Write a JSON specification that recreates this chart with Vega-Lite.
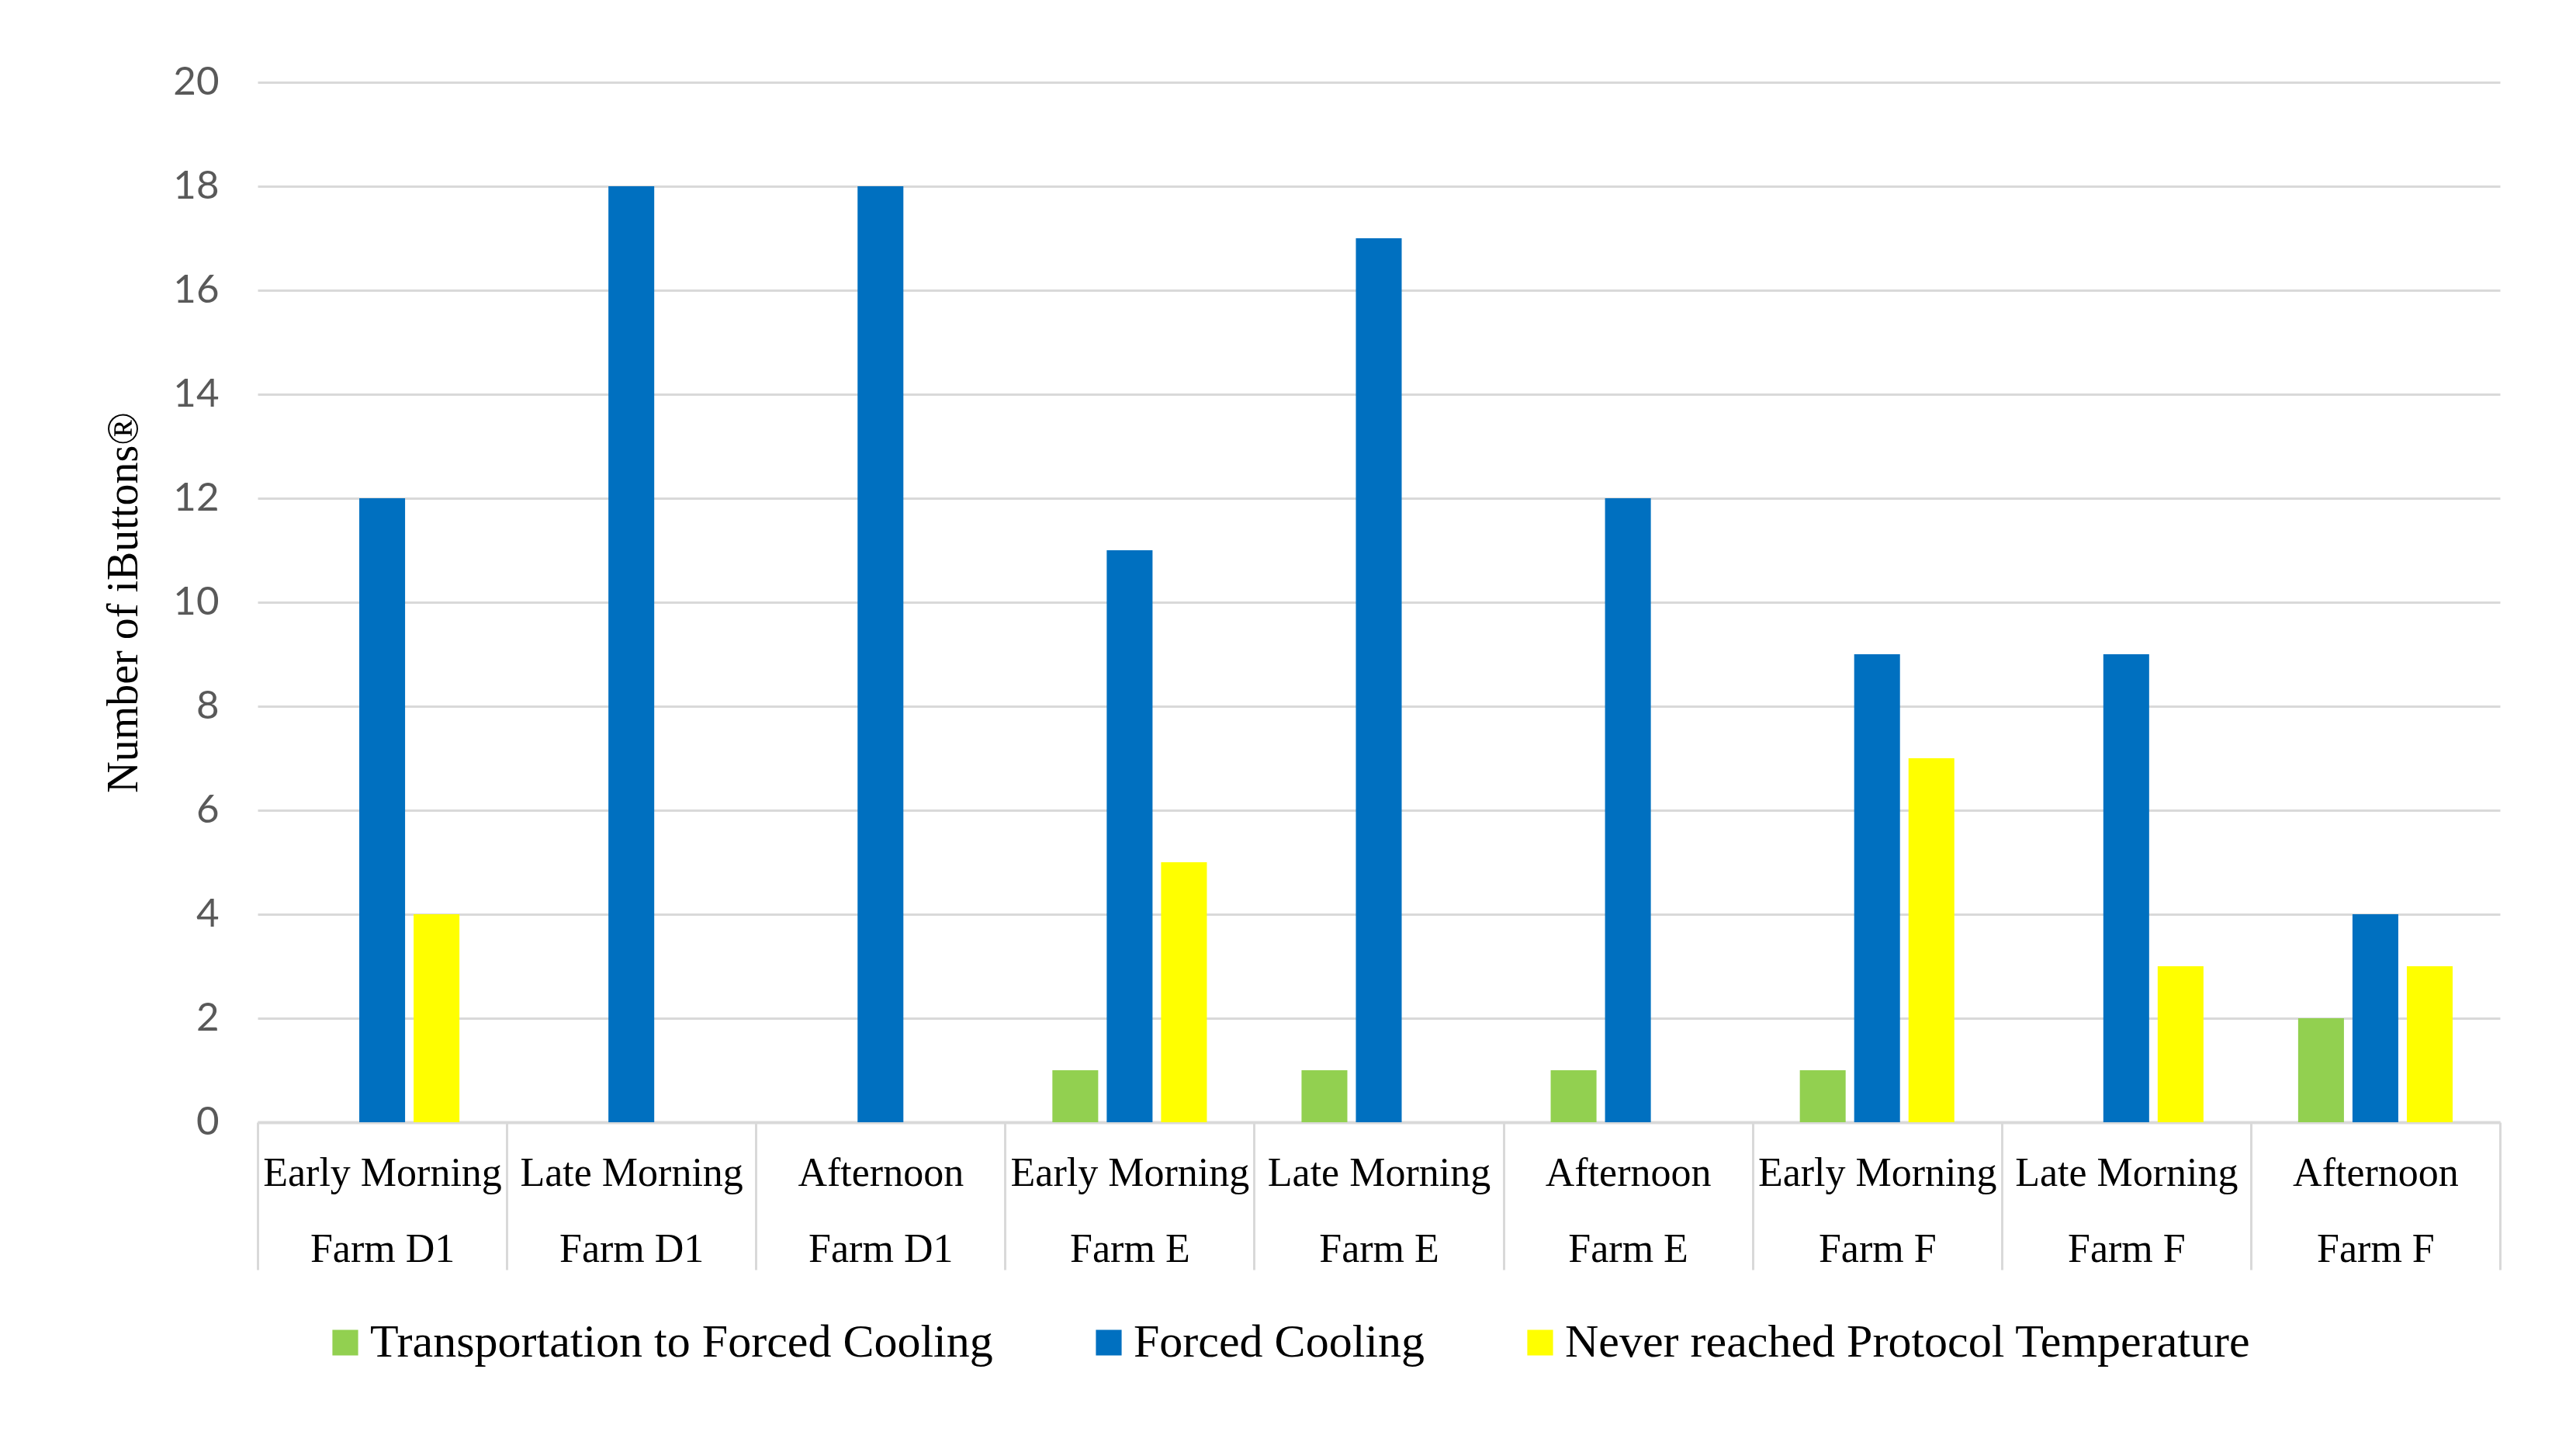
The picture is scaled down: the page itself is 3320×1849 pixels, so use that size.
{
  "$schema": "https://vega.github.io/schema/vega-lite/v6.json",
  "width": 2890,
  "height": 1340,
  "autosize": "none",
  "padding": {"left": 332, "top": 106, "right": 98, "bottom": 403},
  "background": "white",
  "config": {"view": {"stroke": null}},
  "data": {
    "values": [
      {"period": "Early Morning|Farm D1", "series": "Transportation to Forced Cooling", "count": 0},
      {"period": "Early Morning|Farm D1", "series": "Forced Cooling", "count": 12},
      {"period": "Early Morning|Farm D1", "series": "Never reached Protocol  Temperature", "count": 4},
      {"period": "Late Morning|Farm D1", "series": "Transportation to Forced Cooling", "count": 0},
      {"period": "Late Morning|Farm D1", "series": "Forced Cooling", "count": 18},
      {"period": "Late Morning|Farm D1", "series": "Never reached Protocol  Temperature", "count": 0},
      {"period": "Afternoon|Farm D1", "series": "Transportation to Forced Cooling", "count": 0},
      {"period": "Afternoon|Farm D1", "series": "Forced Cooling", "count": 18},
      {"period": "Afternoon|Farm D1", "series": "Never reached Protocol  Temperature", "count": 0},
      {"period": "Early Morning|Farm E", "series": "Transportation to Forced Cooling", "count": 1},
      {"period": "Early Morning|Farm E", "series": "Forced Cooling", "count": 11},
      {"period": "Early Morning|Farm E", "series": "Never reached Protocol  Temperature", "count": 5},
      {"period": "Late Morning|Farm E", "series": "Transportation to Forced Cooling", "count": 1},
      {"period": "Late Morning|Farm E", "series": "Forced Cooling", "count": 17},
      {"period": "Late Morning|Farm E", "series": "Never reached Protocol  Temperature", "count": 0},
      {"period": "Afternoon|Farm E", "series": "Transportation to Forced Cooling", "count": 1},
      {"period": "Afternoon|Farm E", "series": "Forced Cooling", "count": 12},
      {"period": "Afternoon|Farm E", "series": "Never reached Protocol  Temperature", "count": 0},
      {"period": "Early Morning|Farm F", "series": "Transportation to Forced Cooling", "count": 1},
      {"period": "Early Morning|Farm F", "series": "Forced Cooling", "count": 9},
      {"period": "Early Morning|Farm F", "series": "Never reached Protocol  Temperature", "count": 7},
      {"period": "Late Morning|Farm F", "series": "Transportation to Forced Cooling", "count": 0},
      {"period": "Late Morning|Farm F", "series": "Forced Cooling", "count": 9},
      {"period": "Late Morning|Farm F", "series": "Never reached Protocol  Temperature", "count": 3},
      {"period": "Afternoon|Farm F", "series": "Transportation to Forced Cooling", "count": 2},
      {"period": "Afternoon|Farm F", "series": "Forced Cooling", "count": 4},
      {"period": "Afternoon|Farm F", "series": "Never reached Protocol  Temperature", "count": 3}
    ]
  },
  "mark": {"type": "bar"},
  "encoding": {
    "x": {
      "field": "period",
      "type": "nominal",
      "sort": ["Early Morning|Farm D1", "Late Morning|Farm D1", "Afternoon|Farm D1", "Early Morning|Farm E", "Late Morning|Farm E", "Afternoon|Farm E", "Early Morning|Farm F", "Late Morning|Farm F", "Afternoon|Farm F"],
      "scale": {"paddingInner": 0, "paddingOuter": 0},
      "axis": {
        "title": null,
        "labelExpr": "isValid(datum.value) ? split(datum.value, '|') : ''",
        "labelFont": "Liberation Serif",
        "labelFontSize": 52,
        "labelColor": "#000000",
        "labelLineHeight": 98,
        "labelBaseline": "middle",
        "labelAngle": 0,
        "labelPadding": -125,
        "labelOverlap": false,
        "labelLimit": 0,
        "domainColor": "#d9d9d9",
        "domainWidth": 4,
        "tickColor": "#d9d9d9",
        "tickWidth": 3,
        "tickSize": 190,
        "tickBand": "extent"
      }
    },
    "xOffset": {
      "field": "series",
      "type": "nominal",
      "sort": ["Transportation to Forced Cooling", "Forced Cooling", "Never reached Protocol  Temperature"],
      "scale": {"paddingInner": 0.157, "paddingOuter": 0.871}
    },
    "y": {
      "field": "count",
      "type": "quantitative",
      "scale": {"domain": [0, 20], "nice": false},
      "axis": {
        "title": "Number of iButtons®",
        "titleFont": "Liberation Serif",
        "titleFontSize": 56,
        "titleFontWeight": "normal",
        "titleColor": "#000000",
        "titleX": -173,
        "titleBaseline": "middle",
        "values": [0, 2, 4, 6, 8, 10, 12, 14, 16, 18, 20],
        "domain": false,
        "ticks": false,
        "labelPadding": 50,
        "labelFont": "Lato",
        "labelFontSize": 51,
        "labelColor": "#595959",
        "gridColor": "#d9d9d9",
        "gridWidth": 3
      }
    },
    "color": {
      "field": "series",
      "type": "nominal",
      "scale": {
        "domain": ["Transportation to Forced Cooling", "Forced Cooling", "Never reached Protocol  Temperature"],
        "range": ["#92d050", "#0070c0", "#ffff00"]
      },
      "legend": {
        "title": null,
        "orient": "none",
        "legendX": 83,
        "legendY": 1594,
        "direction": "horizontal",
        "symbolType": "square",
        "symbolSize": 1100,
        "symbolStrokeWidth": 0,
        "symbolOpacity": 1,
        "labelFont": "Liberation Serif",
        "labelFontSize": 60,
        "labelColor": "#000000",
        "labelOffset": 2,
        "labelLimit": 0,
        "columnPadding": 119
      }
    }
  }
}
